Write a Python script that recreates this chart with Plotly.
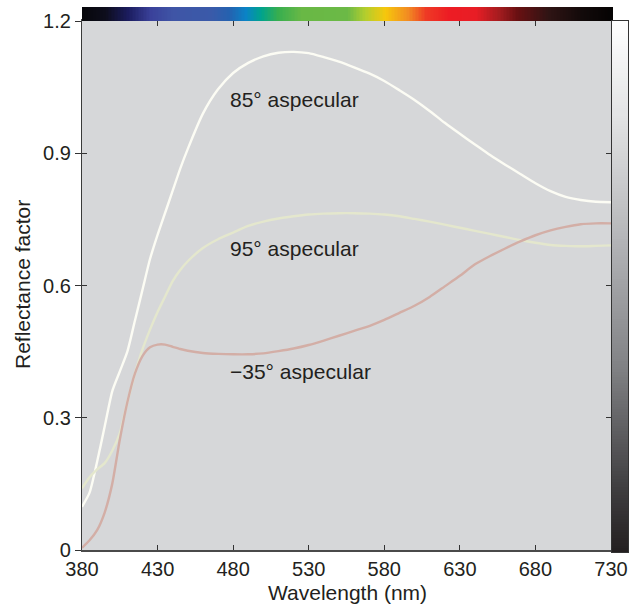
import numpy as np
import plotly.graph_objects as go

# Wavelength grid (nm) and reflectance factors for the three aspecular angles
wavelength = [380, 385, 390, 395, 400, 405, 410, 415, 420, 425, 430, 435, 440, 445,
              450, 460, 470, 480, 490, 500, 510, 520, 530, 540, 550, 560, 570, 580,
              590, 600, 610, 620, 630, 640, 650, 660, 670, 680, 690, 700, 710, 720, 730]

refl_85 = [0.098, 0.13, 0.20, 0.28, 0.36, 0.405, 0.45, 0.52, 0.59, 0.66, 0.715, 0.765,
           0.815, 0.865, 0.91, 0.99, 1.045, 1.082, 1.105, 1.12, 1.128, 1.130, 1.127,
           1.118, 1.108, 1.095, 1.081, 1.064, 1.043, 1.021, 0.996, 0.969, 0.944, 0.920,
           0.896, 0.874, 0.853, 0.832, 0.814, 0.801, 0.794, 0.790, 0.789]

refl_95 = [0.14, 0.165, 0.183, 0.197, 0.225, 0.265, 0.335, 0.40, 0.455, 0.50, 0.54,
           0.575, 0.61, 0.635, 0.655, 0.685, 0.705, 0.72, 0.735, 0.745, 0.752, 0.757,
           0.761, 0.763, 0.764, 0.764, 0.763, 0.761, 0.757, 0.751, 0.745, 0.738, 0.731,
           0.724, 0.717, 0.710, 0.703, 0.697, 0.692, 0.690, 0.689, 0.690, 0.691]

refl_m35 = [0.005, 0.022, 0.045, 0.085, 0.15, 0.25, 0.335, 0.40, 0.44, 0.46, 0.466,
            0.466, 0.461, 0.456, 0.452, 0.447, 0.445, 0.444, 0.444, 0.446, 0.451,
            0.457, 0.465, 0.475, 0.486, 0.497, 0.508, 0.522, 0.538, 0.554, 0.574,
            0.598, 0.622, 0.648, 0.667, 0.684, 0.700, 0.714, 0.725, 0.733, 0.739,
            0.741, 0.741]

series_names = ["85° aspecular", "95° aspecular", "−35° aspecular"]
series_colors = ["#fcfcf4", "#e4e7cd", "#d3aea6"]
label_pos_x = [476.5, 476.5, 476.5]
label_pos_y = [1.022, 0.683, 0.405]

x_ticks = [380, 430, 480, 530, 580, 630, 680, 730]
y_ticks = [0, 0.3, 0.6, 0.9, 1.2]
y_ticklabels = ["0", "0.3", "0.6", "0.9", "1.2"]

# Visible-spectrum strip: (wavelength, colour) stops
spectrum_stops = [(380, "#07070b"), (395, "#0d0d1c"), (410, "#1b1c5e"), (425, "#3a419a"),
                  (440, "#3f55a6"), (465, "#3a5aa9"), (477, "#2462b0"), (488, "#0a83c6"),
                  (498, "#00a38c"), (509, "#37ae4f"), (525, "#69b845"), (555, "#6bb946"),
                  (567, "#b4ce2d"), (580, "#f6c70c"), (595, "#f28b22"), (607, "#ee3a25"),
                  (622, "#ed1c24"), (640, "#e81d25"), (655, "#a51c1f"), (667, "#6a1012"),
                  (688, "#2f1414"), (710, "#120a0a"), (730, "#050303")]

# Grey intensity bar on the right: (position, colour) stops
grey_stops = [(0.0, "#231f20"), (0.12, "#3f3e40"), (0.35, "#818285"),
              (0.6, "#b6b7ba"), (0.82, "#e2e3e4"), (1.0, "#ffffff")]

FONT = "Liberation Sans, Arial, Helvetica, sans-serif"
TXT = "#231f20"

fig = go.Figure()

for name, vals, col in zip(series_names, [refl_85, refl_95, refl_m35], series_colors):
    fig.add_trace(go.Scatter(x=wavelength, y=vals, mode="lines", name=name,
                             line=dict(color=col, width=2.4, shape="spline", smoothing=0.6),
                             hoverinfo="x+y+name", showlegend=False))

for name, lx, ly in zip(series_names, label_pos_x, label_pos_y):
    fig.add_annotation(x=lx, y=ly, text=name, showarrow=False, xanchor="left",
                       yanchor="middle", font=dict(family=FONT, size=21, color=TXT))

# Spectrum strip above the plot
spec_wl = np.arange(380, 731, 1)
lo, hi = spectrum_stops[0][0], spectrum_stops[-1][0]
spec_scale = [[(w - lo) / (hi - lo), c] for w, c in spectrum_stops]
fig.add_trace(go.Heatmap(x=spec_wl, y=[0], z=[spec_wl], colorscale=spec_scale,
                         showscale=False, hoverinfo="skip", xaxis="x2", yaxis="y2"))

# Grey bar right of the plot
grey_pos = np.linspace(0, 1, 200)
grey_scale = [[p, c] for p, c in grey_stops]
fig.add_trace(go.Heatmap(x=[0], y=grey_pos, z=[[v] for v in grey_pos], colorscale=grey_scale,
                         zmin=0, zmax=1, showscale=False, hoverinfo="skip",
                         xaxis="x3", yaxis="y3"))

# Helper traces so the extra tick axes are drawn
fig.add_trace(go.Scatter(x=[None], y=[None], xaxis="x", yaxis="y4", showlegend=False,
                         hoverinfo="skip"))
fig.add_trace(go.Scatter(x=[None], y=[None], xaxis="x", yaxis="y5", showlegend=False,
                         hoverinfo="skip"))

W, H = 639, 613
ML, MR, MT, MB = 82, 11, 7, 61
pw, ph = W - ML - MR, H - MT - MB
def px_x(p):
    return (p - ML) / pw
def px_y(p):
    return (H - MB - p) / ph

main_x = [0, px_x(611)]
main_y = [px_y(550), px_y(21)]

tick_style = dict(tickwidth=1.2, tickcolor="#333333", showgrid=False, zeroline=False,
                  automargin=False)

fig.update_layout(
    width=W, height=H,
    margin=dict(l=ML, r=MR, t=MT, b=MB, autoexpand=False),
    paper_bgcolor="white",
    plot_bgcolor="#d6d7d9",
    font=dict(family=FONT, size=20, color=TXT),
    showlegend=False,
    xaxis=dict(domain=main_x, range=[380, 730], tickvals=x_ticks,
               ticks="inside", ticklen=5, showline=True, linecolor="#4a4a4a",
               linewidth=2, mirror="ticks", tickfont=dict(size=20, color=TXT),
               **tick_style),
    yaxis=dict(domain=main_y, range=[0, 1.2], tickvals=y_ticks, ticktext=y_ticklabels,
               ticks="outside", ticklen=6, showline=True, linecolor="#3a3a3a",
               linewidth=1.2, mirror=True, tickfont=dict(size=20, color=TXT),
               **tick_style),
    yaxis4=dict(domain=main_y, range=[0, 1.2], overlaying="y", side="right",
                tickvals=y_ticks[1:-1], ticks="inside", ticklen=5,
                showticklabels=False, showline=False, **tick_style),
    yaxis5=dict(domain=main_y, range=[0, 1.2], overlaying="y", side="left",
                tickvals=y_ticks[1:-1], ticks="inside", ticklen=5,
                showticklabels=False, showline=False, **tick_style),
    xaxis2=dict(domain=[0, px_x(613)], anchor="y2", range=[379.5, 730.5], visible=False,
                automargin=False),
    yaxis2=dict(domain=[px_y(21), 1], anchor="x2", range=[-0.5, 0.5], visible=False,
                automargin=False),
    xaxis3=dict(domain=[px_x(612), 1], anchor="y3", range=[-0.5, 0.5],
                showline=True, mirror=True, linecolor="#333333", linewidth=1.2,
                ticks="", showticklabels=False, showgrid=False, zeroline=False,
                automargin=False),
    yaxis3=dict(domain=[0, px_y(21)], anchor="x3", range=[0, 1],
                showline=True, mirror=True, linecolor="#333333", linewidth=1.2,
                ticks="", showticklabels=False, showgrid=False, zeroline=False,
                automargin=False),
)

fig.add_annotation(xref="paper", yref="paper", x=px_x(347.5), y=px_y(592),
                   text="Wavelength (nm)", showarrow=False, xanchor="center",
                   yanchor="middle", font=dict(family=FONT, size=21, color=TXT))
fig.add_annotation(xref="paper", yref="paper", x=px_x(23), y=px_y(285),
                   text="Reflectance factor", showarrow=False, textangle=-90,
                   xanchor="center", yanchor="middle",
                   font=dict(family=FONT, size=21, color=TXT))

fig.write_html("out.html")
